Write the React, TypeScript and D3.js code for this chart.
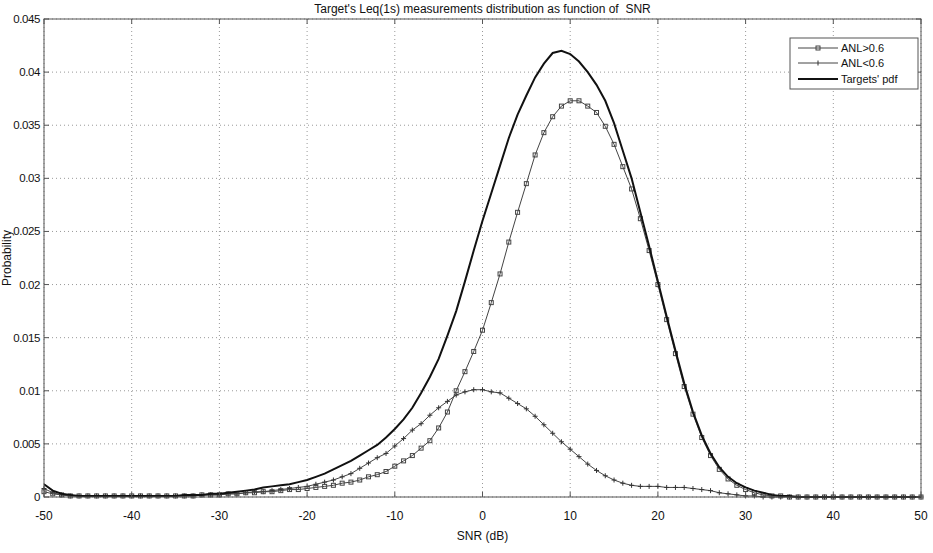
import React from "react";
import * as d3 from "d3";

const SNR: number[] = d3.range(-50, 51);

const anlHigh: number[] = [
  0.0005, 0.0003, 0.0002, 0.0001, 0.0001, 0.0001, 0.0001, 0.0001, 0.0001, 0.0001,
  0.0001, 0.0001, 0.0001, 0.0001, 0.0001, 0.0001, 0.0001, 0.0001, 0.0002, 0.0002,
  0.0002, 0.0003, 0.0003, 0.0004, 0.0004, 0.0005, 0.0005, 0.0006, 0.0007, 0.0007,
  0.0008, 0.0009, 0.001, 0.0011, 0.0013, 0.0014, 0.0016, 0.0019, 0.0021, 0.0024,
  0.0029, 0.0034, 0.0039, 0.0046, 0.0053, 0.0065, 0.008, 0.01, 0.0118, 0.0137,
  0.0157, 0.0183, 0.021, 0.024, 0.0268, 0.0295, 0.0322, 0.0343, 0.0358, 0.0368,
  0.0373, 0.0373, 0.0368, 0.0362, 0.0349, 0.0332, 0.0311, 0.029, 0.0262, 0.0232,
  0.02, 0.0167, 0.0135, 0.0104, 0.0078, 0.0056, 0.0039, 0.0026, 0.0017, 0.0011,
  0.0007, 0.0004, 0.0002, 0.0001, 0.0001, 0, 0, 0, 0, 0,
  0, 0, 0, 0, 0, 0, 0, 0, 0, 0, 0,
];

const anlLow: number[] = [
  0.0008, 0.0004, 0.0002, 0.0001, 0.0001, 0.0001, 0.0001, 0.0001, 0.0001, 0.0001,
  0.0001, 0.0001, 0.0001, 0.0001, 0.0001, 0.0001, 0.0001, 0.0001, 0.0002, 0.0002,
  0.0002, 0.0003, 0.0003, 0.0004, 0.0005, 0.0005, 0.0006, 0.0007, 0.0008, 0.0009,
  0.001, 0.0012, 0.0014, 0.0016, 0.0019, 0.0022, 0.0027, 0.0032, 0.0037, 0.0041,
  0.0048, 0.0055, 0.0063, 0.0069, 0.0077, 0.0084, 0.009, 0.0096, 0.0099, 0.0101,
  0.0101, 0.0099, 0.0098, 0.0093, 0.0088, 0.0083, 0.0076, 0.0068, 0.006, 0.0052,
  0.0045, 0.0038, 0.0031, 0.0025, 0.002, 0.0016, 0.0013, 0.0011, 0.001, 0.001,
  0.001, 0.0009, 0.0009, 0.0009, 0.0008, 0.0007, 0.0006, 0.0004, 0.0003, 0.0002,
  0.0001, 0.0001, 0, 0, 0, 0, 0, 0, 0, 0,
  0, 0, 0, 0, 0, 0, 0, 0, 0, 0, 0,
];

const targetsPdf: number[] = [
  0.0012, 0.0006, 0.0003, 0.0002, 0.0001, 0.0001, 0.0001, 0.0001, 0.0001, 0.0001,
  0.0001, 0.0001, 0.0001, 0.0001, 0.0001, 0.0001, 0.0002, 0.0002, 0.0002, 0.0003,
  0.0003, 0.0004, 0.0005, 0.0006, 0.0007, 0.0009, 0.001, 0.0011, 0.0012, 0.0014,
  0.0016, 0.0019, 0.0022, 0.0026, 0.003, 0.0034, 0.0039, 0.0044, 0.0049, 0.0056,
  0.0064, 0.0073, 0.0084, 0.0098, 0.0113, 0.013, 0.0152, 0.0175, 0.0203, 0.0232,
  0.026, 0.0286, 0.0312, 0.0338, 0.036, 0.0378, 0.0395, 0.0408, 0.0418, 0.042,
  0.0417, 0.041, 0.04, 0.0388, 0.0373, 0.0352, 0.0326, 0.03, 0.0268, 0.0236,
  0.0203, 0.017, 0.0138, 0.0107, 0.008, 0.0058, 0.0041, 0.0028, 0.0019, 0.0013,
  0.0009, 0.0006, 0.0004, 0.0002, 0.0001, 0.0001, 0, 0, 0, 0,
  0, 0, 0, 0, 0, 0, 0, 0, 0, 0, 0,
];

const xTicks: number[] = [-50, -40, -30, -20, -10, 0, 10, 20, 30, 40, 50];
const yTicks: number[] = [0, 0.005, 0.01, 0.015, 0.02, 0.025, 0.03, 0.035, 0.04, 0.045];
const yTickLabels: string[] = ["0", "0.005", "0.01", "0.015", "0.02", "0.025", "0.03", "0.035", "0.04", "0.045"];
const legendLabels: string[] = ["ANL>0.6", "ANL<0.6", "Targets' pdf"];
const titleText = "Target's Leq(1s) measurements distribution as function of  SNR";

const FONT = "'Liberation Sans', Arial, sans-serif";

export default function App() {
  const W = 933;
  const H = 553;
  const L = 44, R = 921, T = 19, B = 497;
  const x = d3.scaleLinear().domain([-50, 50]).range([L, R]);
  const y = d3.scaleLinear().domain([0, 0.045]).range([B, T]);

  const line = d3
    .line<[number, number]>()
    .x((d) => x(d[0]))
    .y((d) => y(d[1]));

  const hiPts: [number, number][] = SNR.map((s, i) => [s, anlHigh[i]]);
  const loPts: [number, number][] = SNR.map((s, i) => [s, anlLow[i]]);
  const pdfPts: [number, number][] = SNR.map((s, i) => [s, targetsPdf[i]]);

  const seriesColor = "#444";
  const tickLen = 5;

  const lgX = 790, lgY = 38, lgW = 128, lgH = 51;
  const rowY = [lgY + 10, lgY + 25, lgY + 41];

  return (
    <svg
      width={W}
      height={H}
      style={{ position: "absolute", left: 0, top: 0, background: "#fff" }}
      fontFamily={FONT}
    >
      <rect x={0} y={0} width={W} height={H} fill="#fff" />
      {/* grid */}
      {xTicks.map((t) => (
        <line key={"gx" + t} x1={x(t)} x2={x(t)} y1={T} y2={B} stroke="#999" strokeWidth={1} strokeDasharray="1 3" />
      ))}
      {yTicks.map((t) => (
        <line key={"gy" + t} x1={L} x2={R} y1={y(t)} y2={y(t)} stroke="#999" strokeWidth={1} strokeDasharray="1 3" />
      ))}

      {/* series */}
      <path d={line(loPts) || ""} fill="none" stroke={seriesColor} strokeWidth={1} />
      {loPts.map((d, i) => (
        <path
          key={"lp" + i}
          d={`M${x(d[0]) - 2.5},${y(d[1])}h5M${x(d[0])},${y(d[1]) - 2.5}v5`}
          stroke="#333"
          strokeWidth={1}
        />
      ))}
      <path d={line(hiPts) || ""} fill="none" stroke={seriesColor} strokeWidth={1} />
      {hiPts.map((d, i) => (
        <rect
          key={"hp" + i}
          x={x(d[0]) - 2}
          y={y(d[1]) - 2}
          width={4}
          height={4}
          fill="none"
          stroke="#444"
          strokeWidth={1}
        />
      ))}
      <path d={line(pdfPts) || ""} fill="none" stroke="#111" strokeWidth={2} />

      {/* axes box */}
      <rect x={L} y={T} width={R - L} height={B - T} fill="none" stroke="#555" strokeWidth={1} />
      {xTicks.map((t) => (
        <g key={"xt" + t}>
          <line x1={x(t)} x2={x(t)} y1={B} y2={B - tickLen} stroke="#555" />
          <line x1={x(t)} x2={x(t)} y1={T} y2={T + tickLen} stroke="#555" />
          <text x={x(t)} y={520} fontSize={12} textAnchor="middle" fill="#111">
            {t}
          </text>
        </g>
      ))}
      {yTicks.map((t, i) => (
        <g key={"yt" + t}>
          <line x1={L} x2={L + tickLen} y1={y(t)} y2={y(t)} stroke="#555" />
          <line x1={R} x2={R - tickLen} y1={y(t)} y2={y(t)} stroke="#555" />
          <text
            x={L - 4}
            y={y(t) + 4}
            fontSize={11.5}
            letterSpacing={-0.4}
            textAnchor="end"
            fill="#111"
          >
            {yTickLabels[i]}
          </text>
        </g>
      ))}

      {/* labels */}
      <text
        x={(L + R) / 2}
        y={13}
        fontSize={12}
        textAnchor="middle"
        fill="#111"
        style={{ whiteSpace: "pre" }}
      >
        {titleText}
      </text>
      <text x={(L + R) / 2} y={540} fontSize={12} textAnchor="middle" fill="#111">
        SNR (dB)
      </text>
      <text
        transform={`translate(11,${(T + B) / 2}) rotate(-90)`}
        fontSize={12}
        textAnchor="middle"
        fill="#111"
      >
        Probability
      </text>

      {/* legend */}
      <rect x={lgX} y={lgY} width={lgW} height={lgH} fill="#fff" stroke="#555" strokeWidth={1} />
      <line x1={lgX + 8} x2={lgX + 48} y1={rowY[0]} y2={rowY[0]} stroke={seriesColor} />
      <rect x={lgX + 26} y={rowY[0] - 2} width={4} height={4} fill="none" stroke="#444" />
      <line x1={lgX + 8} x2={lgX + 48} y1={rowY[1]} y2={rowY[1]} stroke={seriesColor} />
      <path d={`M${lgX + 28},${rowY[1] - 2.5}v5`} stroke="#333" />
      <line x1={lgX + 8} x2={lgX + 48} y1={rowY[2]} y2={rowY[2]} stroke="#111" strokeWidth={2} />
      {legendLabels.map((lab, i) => (
        <text key={lab} x={lgX + 51} y={rowY[i] + 4} fontSize={11} fill="#111">
          {lab}
        </text>
      ))}
    </svg>
  );
}
